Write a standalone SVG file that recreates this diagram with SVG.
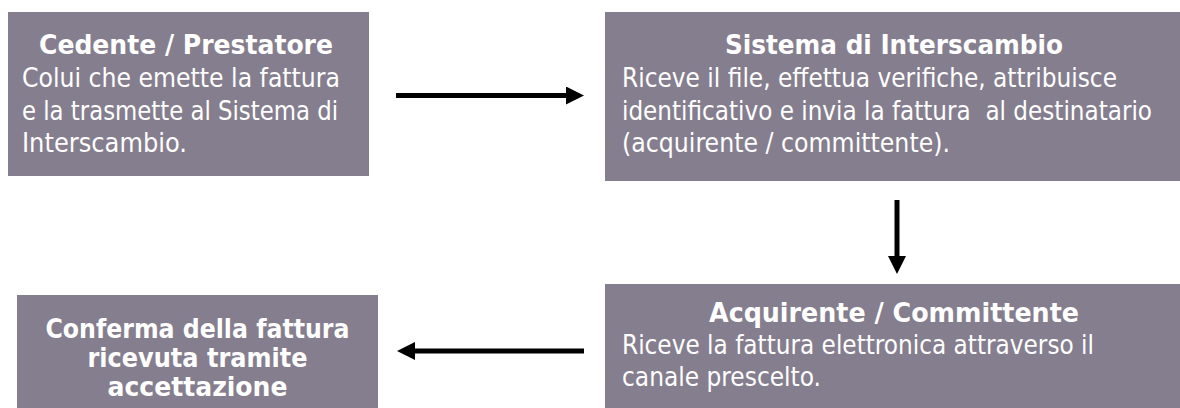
<svg xmlns="http://www.w3.org/2000/svg" width="1180" height="408" viewBox="0 0 1180 408">
  <defs>
    <style>
      .box { fill: #857e8e; }
      .t { font-family: "DejaVu Sans Condensed", "DejaVu Sans", "Liberation Sans", sans-serif; font-stretch: condensed; fill: #ffffff; font-size: 26.5px; }
      .title { font-weight: bold; text-anchor: middle; }
      .conn { stroke: #000000; stroke-width: 5; fill: none; }
    </style>
    <marker id="ah" markerUnits="userSpaceOnUse" markerWidth="19" markerHeight="19" viewBox="0 0 19 19" refX="0" refY="9" orient="auto">
      <path d="M0,0 L18,9 L0,18 Z" fill="#000000"/>
    </marker>
  </defs>
  <rect width="1180" height="408" fill="#ffffff"/>

  <g id="node-cedente">
    <rect class="box" x="8" y="12" width="361" height="164"/>
    <text class="t title" x="186" y="54" textLength="294" lengthAdjust="spacingAndGlyphs">Cedente / Prestatore</text>
    <text class="t" x="22" y="87" textLength="318" lengthAdjust="spacingAndGlyphs">Colui che emette la fattura</text>
    <text class="t" x="22" y="119.5" textLength="316" lengthAdjust="spacingAndGlyphs">e la trasmette al Sistema di</text>
    <text class="t" x="22" y="152" textLength="165" lengthAdjust="spacingAndGlyphs">Interscambio.</text>
  </g>

  <g id="node-sdi">
    <rect class="box" x="605" y="12" width="575" height="169"/>
    <text class="t title" x="894" y="54" textLength="338" lengthAdjust="spacingAndGlyphs">Sistema di Interscambio</text>
    <text class="t" x="622" y="87" textLength="495" lengthAdjust="spacingAndGlyphs">Riceve il file, effettua verifiche, attribuisce</text>
    <text class="t" x="622" y="119.5" textLength="530" lengthAdjust="spacingAndGlyphs" xml:space="preserve">identificativo e invia la fattura  al destinatario</text>
    <text class="t" x="622" y="152" textLength="328" lengthAdjust="spacingAndGlyphs">(acquirente / committente).</text>
  </g>

  <g id="node-acquirente">
    <rect class="box" x="605" y="284" width="575" height="124"/>
    <text class="t title" x="894" y="322" textLength="370" lengthAdjust="spacingAndGlyphs">Acquirente / Committente</text>
    <text class="t" x="622" y="353.5" textLength="472" lengthAdjust="spacingAndGlyphs">Riceve la fattura elettronica attraverso il</text>
    <text class="t" x="622" y="386" textLength="199" lengthAdjust="spacingAndGlyphs">canale prescelto.</text>
  </g>

  <g id="node-conferma">
    <rect class="box" x="17" y="295" width="361" height="113"/>
    <text class="t title" x="197.5" y="338" textLength="304" lengthAdjust="spacingAndGlyphs">Conferma della fattura</text>
    <text class="t title" x="197.5" y="367" textLength="220" lengthAdjust="spacingAndGlyphs">ricevuta tramite</text>
    <text class="t title" x="197.5" y="396" textLength="180" lengthAdjust="spacingAndGlyphs">accettazione</text>
  </g>

  <g id="connectors">
    <line class="conn" x1="396" y1="95.5" x2="566" y2="95.5" marker-end="url(#ah)"/>
    <line class="conn" x1="897" y1="200" x2="897" y2="256" marker-end="url(#ah)"/>
    <line class="conn" x1="584" y1="351" x2="415" y2="351" marker-end="url(#ah)"/>
  </g>
</svg>
